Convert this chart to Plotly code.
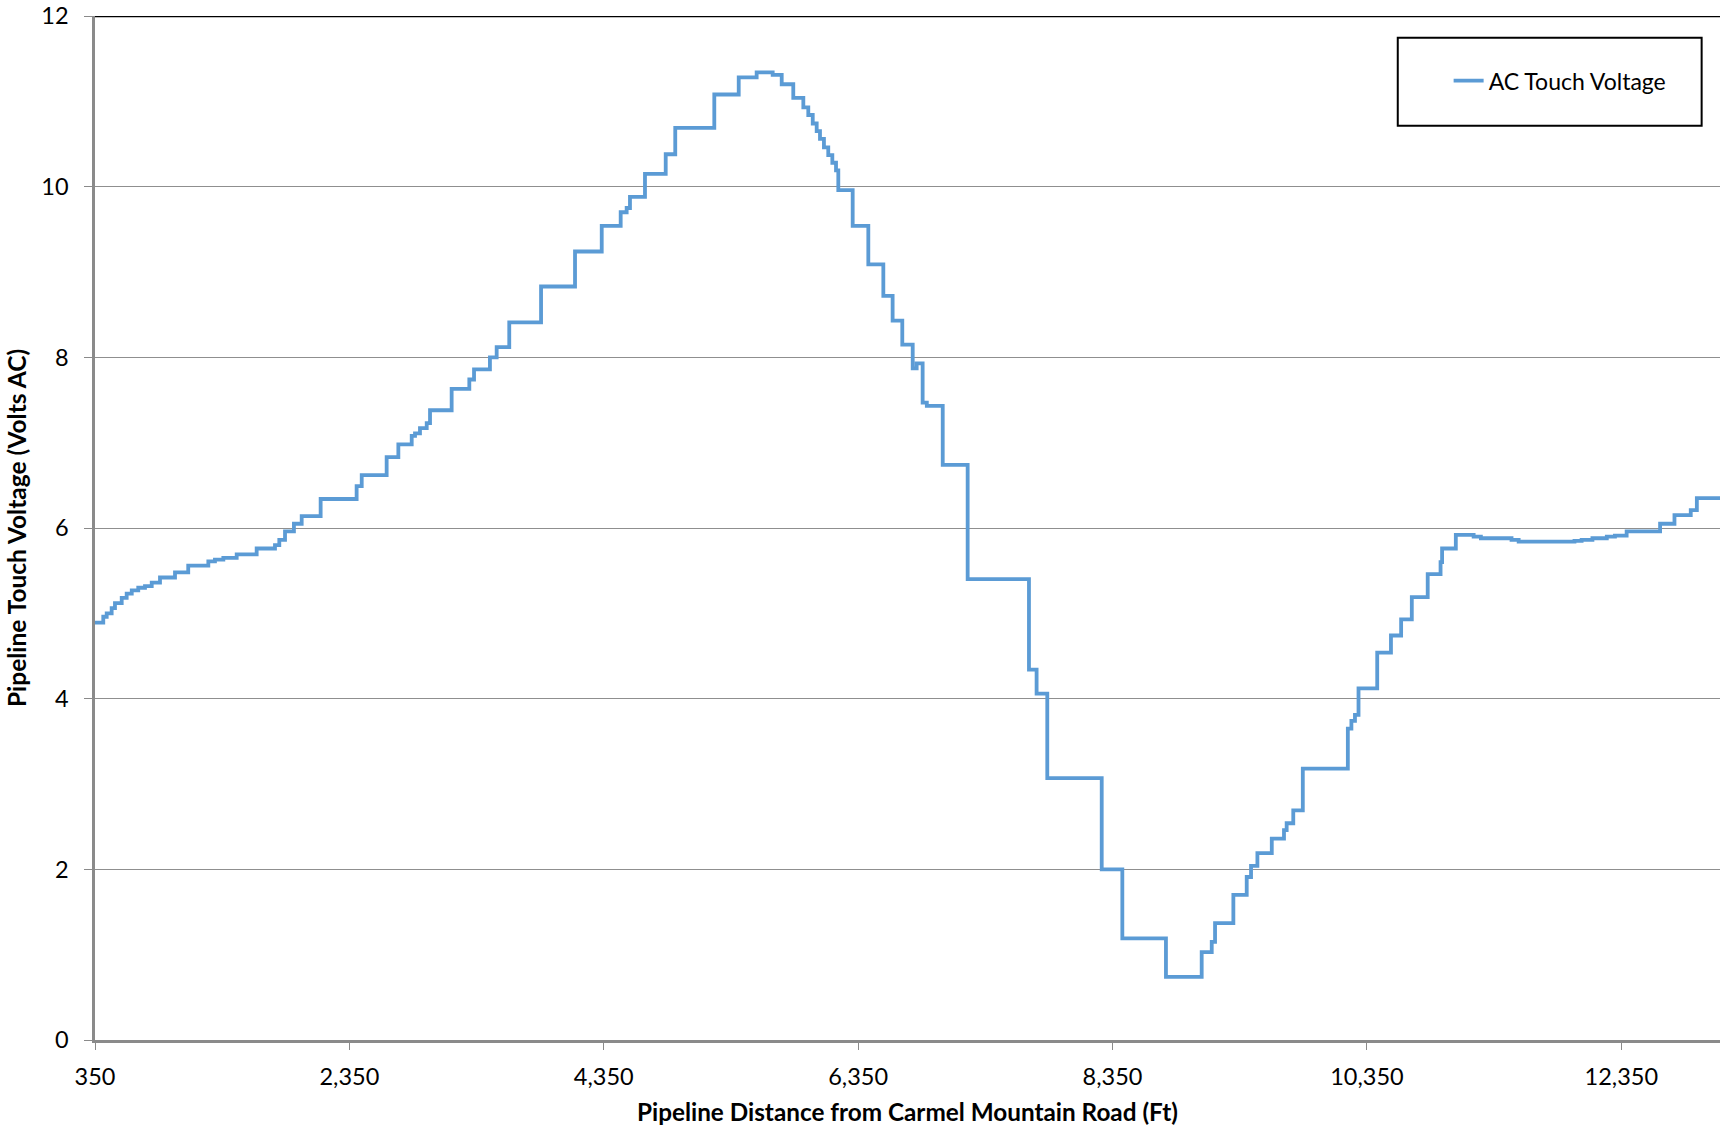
import plotly.graph_objects as go

# ---- data ----
distance_ft = [
    350, 415, 442, 481, 507, 560, 599, 639, 690, 743, 796, 861, 979, 1083,
    1241, 1293, 1359, 1464, 1621, 1765, 1799, 1844, 1914, 1975, 2124, 2407,
    2447, 2643, 2735, 2840, 2866, 2905, 2958, 2984, 3154, 3293, 3330, 3455,
    3508, 3607, 3857, 4124, 4334, 4483, 4530, 4556, 4674, 4837, 4912, 5219,
    5411, 5552, 5678, 5749, 5840, 5919, 5958, 5993, 6024, 6050, 6081, 6115,
    6147, 6176, 6194, 6307, 6430, 6548, 6621, 6697, 6779, 6810, 6857, 6890,
    7015, 7211, 7693, 7753, 7837, 8265, 8427, 8770, 9051, 9130, 9156, 9300,
    9405, 9439, 9489, 9602, 9698, 9719, 9771, 9846, 10200, 10228, 10256,
    10284, 10431, 10539, 10619, 10703, 10828, 10929, 10941, 11049, 11189,
    11246, 11487, 11543, 11982, 12038, 12123, 12236, 12300, 12392, 12655,
    12768, 12896, 12944, 13126,
]
touch_voltage = [
    4.89, 4.96, 5.00, 5.06, 5.12, 5.18, 5.23, 5.27, 5.30, 5.32, 5.36, 5.42,
    5.48, 5.56, 5.61, 5.63, 5.65, 5.69, 5.76, 5.80, 5.86, 5.96, 6.05, 6.14,
    6.34, 6.49, 6.62, 6.83, 6.98, 7.08, 7.11, 7.17, 7.23, 7.38, 7.63, 7.74,
    7.86, 8.00, 8.12, 8.41, 8.83, 9.24, 9.54, 9.70, 9.75, 9.88, 10.15, 10.38,
    10.69, 11.08, 11.28, 11.34, 11.31, 11.20, 11.04, 10.93, 10.84, 10.74,
    10.65, 10.56, 10.46, 10.37, 10.28, 10.19, 9.96, 9.54, 9.09, 8.72, 8.43,
    8.15, 7.87, 7.93, 7.47, 7.43, 6.74, 5.40, 4.34, 4.06, 3.07, 2.00, 1.19,
    0.74, 1.03, 1.15, 1.37, 1.70, 1.91, 2.04, 2.19, 2.36, 2.46, 2.54, 2.69,
    3.18, 3.65, 3.74, 3.81, 4.12, 4.54, 4.74, 4.93, 5.19, 5.46, 5.60, 5.76,
    5.92, 5.90, 5.88, 5.86, 5.84, 5.85, 5.86, 5.88, 5.90, 5.91, 5.96, 6.05,
    6.15, 6.21, 6.35, 6.35,
]
x_tick_vals = [350, 2350, 4350, 6350, 8350, 10350, 12350]
x_tick_text = ["350", "2,350", "4,350", "6,350", "8,350", "10,350", "12,350"]
y_tick_vals = [0, 2, 4, 6, 8, 10, 12]
series_name = "AC Touch Voltage"
x_title = "Pipeline Distance from Carmel Mountain Road (Ft)"
y_title = "Pipeline Touch Voltage (Volts AC)"

# ---- figure ----
W, H = 1720, 1129
L, R, T, B = 95, 0, 16, 89
FONT = "Lato"
AXIS_GRAY = "#8a8a8a"

fig = go.Figure()
fig.add_trace(go.Scatter(
    x=distance_ft, y=touch_voltage, mode="lines", name=series_name,
    line=dict(color="#5B9BD5", width=3.8, shape="hv"),
))

fig.update_layout(
    width=W, height=H,
    margin=dict(l=L, r=R, t=T, b=B, pad=0),
    paper_bgcolor="white", plot_bgcolor="white",
    font=dict(family=FONT, size=23, color="black"),
    showlegend=True,
    legend=dict(
        x=0.8330, y=0.9368, xanchor="left", yanchor="middle",
        bgcolor="rgba(0,0,0,0)", borderwidth=0,
        font=dict(family=FONT, size=23, color="black"),
    ),
    xaxis=dict(
        range=[350, 13126], tickmode="array",
        tickvals=x_tick_vals, ticktext=x_tick_text,
        showgrid=False, zeroline=False,
        showline=True, linecolor=AXIS_GRAY, linewidth=3,
        ticks="outside", ticklen=7, tickwidth=1, tickcolor=AXIS_GRAY,
        ticklabelstandoff=7,
        tickfont=dict(family=FONT, size=23.5, color="black"),
        title=dict(text=x_title, standoff=15,
                   font=dict(family=FONT, size=24.3, color="black", weight="bold")),
    ),
    yaxis=dict(
        range=[0, 12], tickmode="array", tickvals=y_tick_vals,
        showgrid=True, gridcolor="#8f8f8f", gridwidth=1.2, zeroline=False,
        showline=True, linecolor=AXIS_GRAY, linewidth=2.5,
        ticks="outside", ticklen=8, tickwidth=1, tickcolor=AXIS_GRAY,
        ticklabelstandoff=11,
        tickfont=dict(family=FONT, size=23.5, color="black"),
        title=dict(text=y_title, standoff=8,
                   font=dict(family=FONT, size=24.5, color="black", weight="bold")),
    ),
    shapes=[
        # black top border of the plot area
        dict(type="line", xref="paper", yref="y", x0=0, x1=1, y0=12, y1=12,
             line=dict(color="black", width=2.5), layer="above"),
        # legend frame
        dict(type="rect", xref="paper", yref="paper",
             x0=0.8017, x1=0.9887, y0=0.8929, y1=0.9788,
             line=dict(color="black", width=2), fillcolor="white", layer="above"),
    ],
)

fig.write_html(
    "out.html",
    config={"displayModeBar": False},
    post_script="document.body.style.margin='0';document.body.style.padding='0';",
)
